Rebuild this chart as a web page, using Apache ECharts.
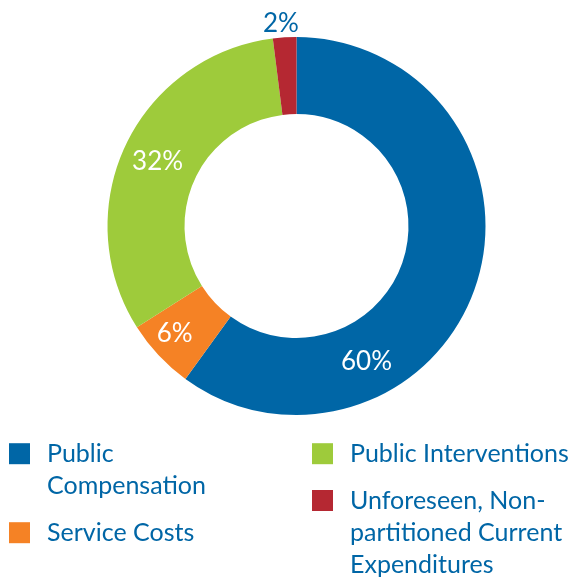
<!DOCTYPE html>
<head>
    <meta charset="utf-8">
    <title>ECharts</title>
    <script src="https://cdn.jsdelivr.net/npm/echarts@6/dist/echarts.min.js"></script>
</head>
<body style="margin:0">
    <div id="container" style="width:568px;height:579px"></div>
    <script type="text/javascript">
        // data
        var categories = ['Public\nCompensation', 'Service Costs', 'Public Interventions',
                          'Unforeseen, Non-\npartitioned Current\nExpenditures'];
        var shares = [60, 6, 32, 2];
        var colors = ['#0066a6', '#f58225', '#9ecb3b', '#b52832'];

        var textBlue = '#0066a6';
        var font = 'Lato';
        var lineH = 32;

        var dom = document.getElementById("container");
        var myChart = echarts.init(dom);

        // label tweaks per slice (offset from ring middle)
        var labelOffsets = [[-76, 88], [-10, 3], [0, 1], [-6, -49]];

        var pieData = [];
        for (var i = 0; i < categories.length; i++) {
            pieData.push({
                name: categories[i],
                value: shares[i],
                itemStyle: { color: colors[i] },
                label: {
                    offset: labelOffsets[i],
                    color: i == 3 ? textBlue : '#fff'
                }
            });
        }

        // square marker drawn in the top line of a box as tall as the text,
        // so it lines up with the first line of multi-line names
        function markerPath(lines) {
            var h = lines * lineH;
            return 'path://M0,0L0,0 M33,' + h + 'L33,' + h +
                   ' M0,5.5L21,5.5L21,26.5L0,26.5Z';
        }

        // one legend per entry, first-line centre positions
        var legendPos = [[9, 437.7], [9, 516.7], [312, 437.7], [312, 484.5]];
        var legends = [];
        for (var j = 0; j < categories.length; j++) {
            var lines = categories[j].split('\n').length;
            legends.push({
                data: [categories[j]],
                left: legendPos[j][0],
                top: legendPos[j][1],
                padding: 0,
                icon: markerPath(lines),
                itemWidth: 33,
                itemHeight: lines * lineH,
                selectedMode: false,
                textStyle: {
                    fontFamily: font,
                    fontSize: 25,
                    lineHeight: lineH,
                    color: textBlue
                }
            });
        }

        var option = {
            animation: false,
            legend: legends,
            series: [
                {
                    type: 'pie',
                    center: [296.5, 226],
                    radius: [112, 189],
                    startAngle: 90,
                    clockwise: true,
                    avoidLabelOverlap: false,
                    itemStyle: { borderWidth: 0 },
                    emphasis: { disabled: true },
                    label: {
                        show: true,
                        position: 'inside',
                        formatter: '{c}%',
                        fontFamily: font,
                        fontSize: 26
                    },
                    labelLine: { show: false },
                    data: pieData
                }
            ]
        };
        myChart.setOption(option);
    </script>
</body>
